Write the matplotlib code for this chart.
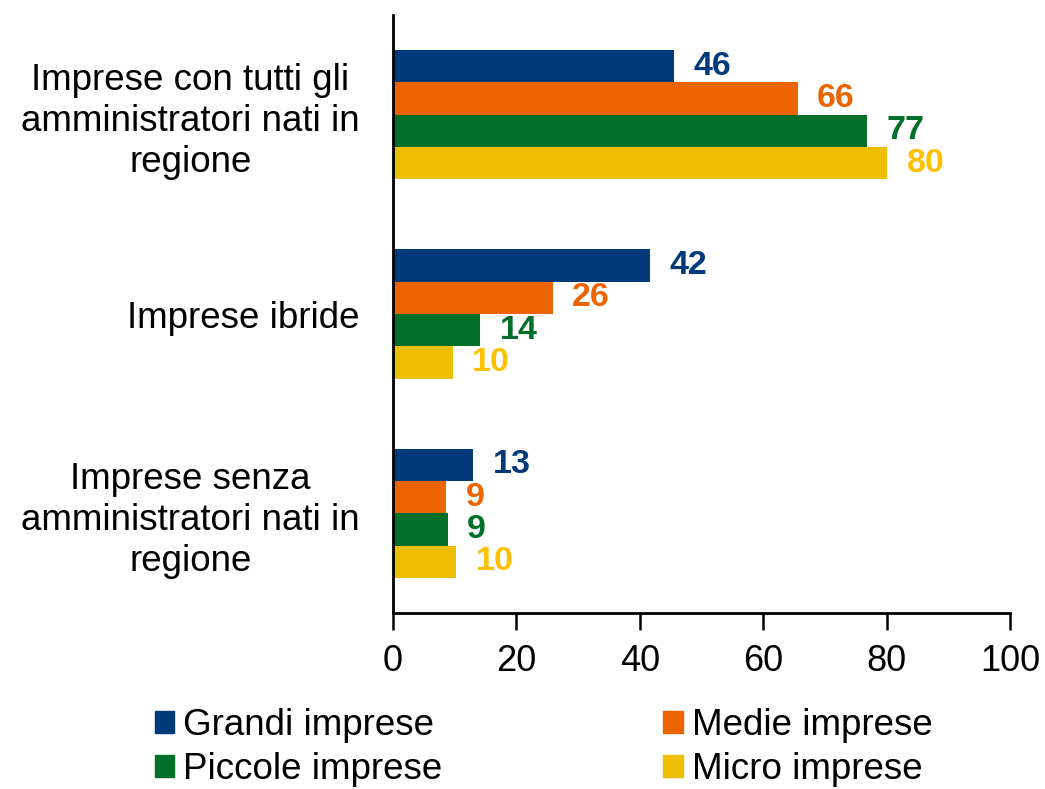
import numpy as np
import matplotlib.pyplot as plt
from matplotlib.patches import Patch
from matplotlib import font_manager

plt.rcParams['font.family'] = ['Liberation Sans', 'DejaVu Sans']
names = {f.name for f in font_manager.fontManager.ttflist}
narrow = 'Liberation Sans Narrow' if 'Liberation Sans Narrow' in names else 'Liberation Sans'

categories = ["Imprese con tutti gli\namministratori nati in\nregione",
              "Imprese ibride",
              "Imprese senza\namministratori nati in\nregione"]
series = ["Grandi imprese", "Medie imprese", "Piccole imprese", "Micro imprese"]
grandi = [45.6, 41.6, 13.0]
medie = [65.6, 25.9, 8.6]
piccole = [76.8, 14.1, 8.9]
micro = [80.1, 9.7, 10.2]
labels = [[46, 42, 13], [66, 26, 9], [77, 14, 9], [80, 10, 10]]

bar_colors = ["#003A7A", "#EC6400", "#006F2A", "#EDBF00"]
text_colors = ["#003A7A", "#EC6400", "#006F2A", "#FFC000"]

fig = plt.figure(figsize=(10.45, 7.89), dpi=100)
ax = fig.add_axes([393 / 1045, 1 - 613 / 789, 617 / 1045, 598 / 789])

y = np.arange(len(categories))
h = 0.162
for i, vals in enumerate([grandi, medie, piccole, micro]):
    pos = y - 1.5 * h + i * h
    ax.barh(pos, vals, height=h, color=bar_colors[i], label=series[i])
    for p, v, lab in zip(pos, vals, labels[i]):
        ax.annotate(str(lab), (v, p), xytext=(14, 0), textcoords='offset points',
                    va='center', ha='left', fontsize=24.5, fontweight='bold',
                    color=text_colors[i])

ax.set_xlim(0, 100)
ax.set_ylim(2.5, -0.5)
ax.set_xticks([0, 20, 40, 60, 80, 100])
ax.tick_params(axis='x', labelsize=26, length=12, width=1.8, direction='out', pad=10)
for t in ax.get_xticklabels():
    t.set_fontfamily([narrow, 'DejaVu Sans'])
ax.set_yticks(y)
ax.set_yticklabels(categories, fontsize=26.5, multialignment='center', linespacing=1.22)
ax.tick_params(axis='y', length=0, pad=24)
for s in ['top', 'right']:
    ax.spines[s].set_visible(False)
for s in ['left', 'bottom']:
    ax.spines[s].set_linewidth(2)
    ax.spines[s].set_color('black')

# legend laid out row by row: Grandi/Medie, then Piccole/Micro
order = [0, 2, 1, 3]
handles = [Patch(color=bar_colors[k]) for k in order]
fig.legend(handles, [series[k] for k in order], ncol=2, loc='upper left',
           bbox_to_anchor=(155 / 1045, 1 - 708 / 789), frameon=False, fontsize=26.5,
           handlelength=0.52, handleheight=0.52, handletextpad=0.25,
           columnspacing=6.0, labelspacing=0.24, borderaxespad=0, borderpad=0)

fig.savefig("out.png", dpi=100)
